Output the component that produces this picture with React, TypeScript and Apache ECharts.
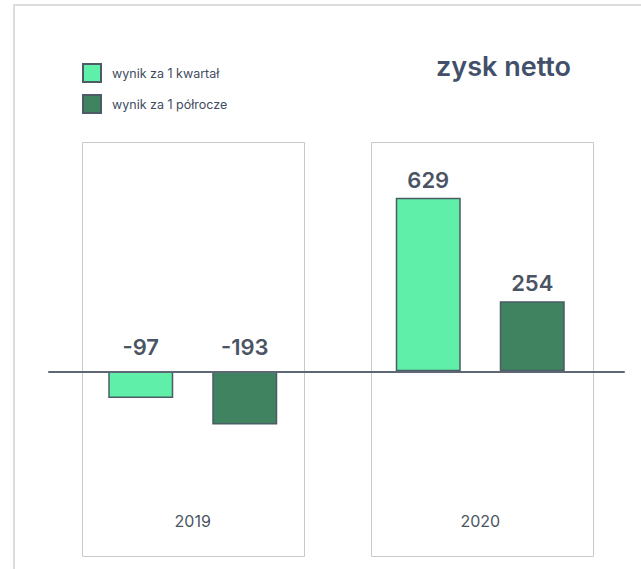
import React, { useEffect, useRef } from "react";
import * as echarts from "echarts";

const categories = ["2019", "2020"];
const seriesNames = ["wynik za 1 kwartał", "wynik za 1 półrocze"];
const quarterValues = [-97, 629];
const halfYearValues = [-193, 254];
const titleText = "zysk netto";

const FONT = "Inter, 'Noto Sans', sans-serif";
const TEXT = "#4a5463";

const toItems = (vals: number[]) =>
  vals.map((v) => ({ value: v, label: { distance: v < 0 ? 13 : 7 } }));

export default function App() {
  const ref = useRef<HTMLDivElement>(null);
  useEffect(() => {
    if (!ref.current) return;
    const chart = echarts.init(ref.current, undefined, { renderer: "svg" });
    const label = {
      show: true,
      position: "top" as const,
      distance: 8,
      fontSize: 22,
      fontWeight: 600,
      color: TEXT,
      fontFamily: FONT,
    };
    chart.setOption({
      animation: false,
      backgroundColor: "#ffffff",
      textStyle: { fontFamily: FONT },
      title: {
        text: titleText,
        left: 436,
        top: 53,
        padding: 0,
        textStyle: { fontSize: 27, fontWeight: 600, color: "#42506a", fontFamily: FONT },
      },
      legend: {
        orient: "vertical",
        left: 82,
        top: 63,
        padding: 0,
        itemWidth: 18,
        itemHeight: 18,
        itemGap: 11,
        icon: "rect",
        textStyle: { fontSize: 12.5, color: "#3f4c5e", fontFamily: FONT, padding: [0, 0, 0, 6] },
        data: seriesNames,
      },
      graphic: [
        {
          type: "rect",
          z: -10,
          shape: { x: 14, y: 5, width: 800, height: 800 },
          style: { fill: "none", stroke: "#dcdcdc", lineWidth: 2 },
        },
        {
          type: "rect",
          z: -10,
          shape: { x: 82.5, y: 142.5, width: 222, height: 414 },
          style: { fill: "none", stroke: "#c9c9c9", lineWidth: 1 },
        },
        {
          type: "rect",
          z: -10,
          shape: { x: 371.5, y: 142.5, width: 222, height: 414 },
          style: { fill: "none", stroke: "#c9c9c9", lineWidth: 1 },
        },
      ],
      grid: {
        left: 49,
        right: 17,
        top: 150.5,
        bottom: 32.1,
        containLabel: false,
        outerBoundsMode: "none",
      },
      xAxis: [
        {
          type: "category",
          data: categories,
          axisTick: { show: false },
          axisLine: { show: true, onZero: true, lineStyle: { color: "#5d6874", width: 2 } },
          axisLabel: { show: false },
          splitLine: { show: false },
          z: 5,
        },
        {
          type: "category",
          data: categories,
          position: "bottom",
          offset: -32,
          axisTick: { show: false },
          axisLine: { show: false, onZero: false },
          axisLabel: { margin: 8, fontSize: 16, color: TEXT, fontFamily: FONT },
          splitLine: { show: false },
        },
      ],
      yAxis: {
        type: "value",
        min: -600,
        max: 800,
        show: false,
        splitLine: { show: false },
      },
      series: [
        {
          name: seriesNames[0],
          type: "bar",
          data: toItems(quarterValues),
          barWidth: 65,
          barGap: "60%",
          itemStyle: { color: "#60efa9", borderColor: "#4b5c66", borderWidth: 1.5 },
          label,
        },
        {
          name: seriesNames[1],
          type: "bar",
          data: toItems(halfYearValues),
          barWidth: 65,
          barGap: "60%",
          itemStyle: { color: "#3f8361", borderColor: "#4b5c66", borderWidth: 1.5 },
          label,
        },
      ],
    });
    return () => chart.dispose();
  }, []);
  return (
    <div
      ref={ref}
      style={{ position: "fixed", left: 0, top: 0, width: 641, height: 569 }}
    />
  );
}
